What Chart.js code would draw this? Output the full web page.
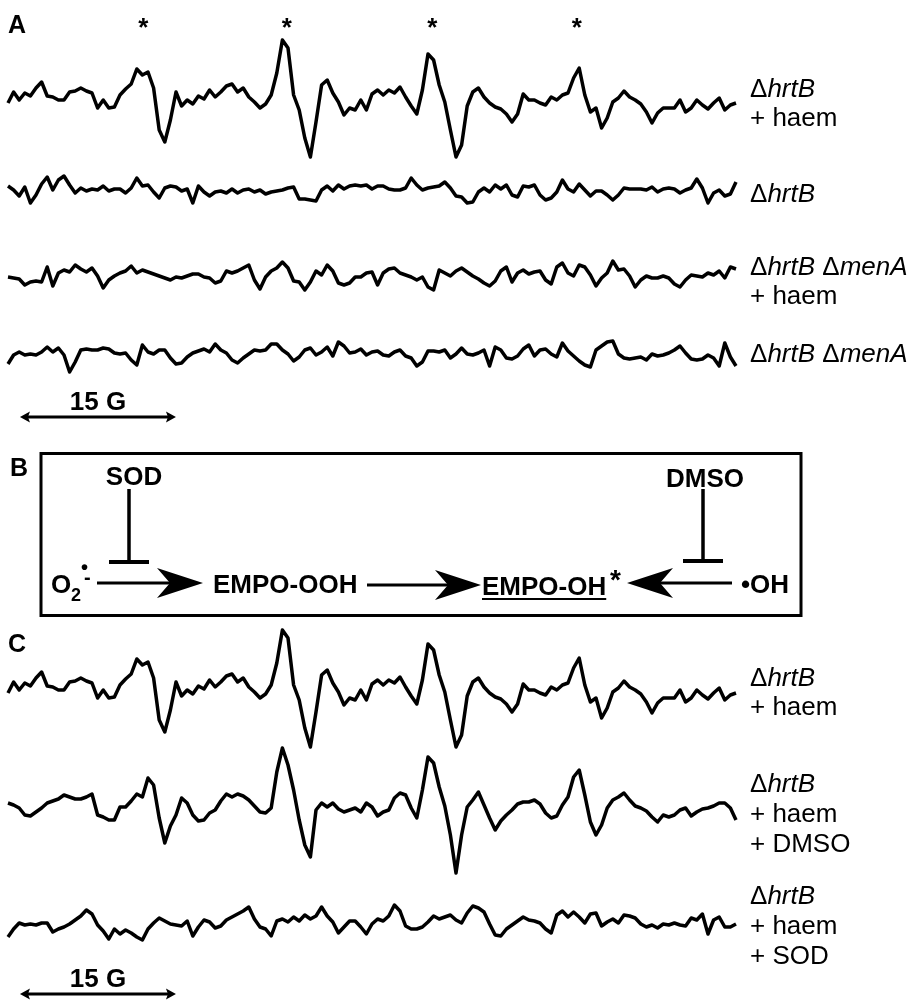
<!DOCTYPE html>
<html>
<head>
<meta charset="utf-8">
<script src="https://cdn.jsdelivr.net/npm/chart.js@4.4.1/dist/chart.umd.min.js"></script>
<style>
  body { margin: 0; background: #fff; }
  #wrap { position: relative; width: 913px; height: 1000px; }
  #wrap canvas { position: absolute; left: 0; top: 0; }
  .t { position: absolute; white-space: nowrap; color: #000;
       font-family: "Liberation Sans", Arial, sans-serif; }
  .b { font-weight: bold; }
  .c { transform: translateX(-50%); }
</style>
</head>
<body>
<div id="wrap"><canvas id="myChart" width="913" height="1000"></canvas></div>
<script>
// EPR spectra, signal in arbitrary units (positive = up), sampled evenly over the sweep
const sweepWidth = 70; // G

const hrtBHaem = [-3,8,0,7,4,12,18,4,3,0,0,8,9,12,9,7,-8,0,-8,-7,5,11,16,31,25,28,12,-30,-42,-20,
  8,-6,0,-4,4,1,10,3,8,14,16,8,12,3,-2,-8,-4,5,27,60,52,5,-10,-38,-57,-22,15,20,7,-2,
  -15,-8,-10,0,-10,6,10,5,10,7,13,3,-6,-14,10,46,40,15,-2,-30,-57,-45,-6,8,12,3,-3,-7,-9,-14,
  -22,-14,6,0,0,-3,-5,3,0,5,7,22,32,5,-12,-8,-28,-18,-2,2,9,3,0,-4,-12,-23,-13,-8,-8,-8,
  0,-12,-8,0,-5,-9,-3,2,-10,-5,-3];

const hrtB = [4,0,-6,3,-13,-5,6,13,0,10,14,5,-3,2,-1,1,0,4,-1,1,1,-3,2,12,4,5,-2,-8,2,4,
  3,-1,1,-13,4,-2,-6,-2,-1,-3,1,-3,0,1,-2,0,-4,-2,-1,0,2,3,-9,-9,-10,-11,0,4,-1,5,
  1,4,5,4,5,1,4,4,1,0,0,2,12,5,0,2,3,4,8,2,-6,-7,-13,-12,-2,2,-2,5,1,5,
  -5,-7,4,3,5,-5,-10,-8,-2,10,1,-2,6,0,-6,-1,-1,-5,-10,-5,2,1,1,1,0,3,-2,1,2,1,
  -3,0,2,11,2,-13,-3,0,-6,-4,8];

const menAHaem = [0,-1,-2,-8,-5,-4,-5,10,-9,4,7,5,12,8,5,9,1,-11,-3,1,4,6,11,4,7,5,3,1,-1,-3,
  0,-1,1,3,3,0,-1,-6,-4,6,4,6,9,12,-3,-12,0,6,9,15,9,-4,-5,-13,-5,6,2,12,6,-6,
  -8,-6,0,0,4,5,-8,4,8,9,4,2,0,-3,0,-10,-13,7,4,1,6,9,5,1,-2,-6,-9,-4,6,10,
  -5,4,7,3,5,6,-3,-7,10,14,4,1,12,10,2,-9,-1,4,16,7,8,1,-10,-3,1,-1,-1,1,-1,-7,
  -10,-3,2,1,0,4,2,6,-1,10,8];

const menA = [-9,0,3,0,1,0,3,8,3,7,0,-17,-7,5,6,5,5,7,6,2,1,2,-5,-10,10,3,1,5,5,-3,
  -9,-8,-2,2,4,6,3,11,5,2,-5,-8,-3,1,5,4,5,11,11,5,1,-6,-2,5,7,0,3,8,-1,13,
  9,2,3,6,0,3,4,0,-1,3,5,-1,-3,-11,-7,4,4,3,5,-3,1,7,1,0,2,5,-11,8,5,-3,
  -4,-1,6,10,-1,5,6,1,-2,12,4,-1,-6,-10,-12,5,9,13,14,1,-3,-4,-3,-2,-5,1,-1,0,2,5,
  9,2,-4,-5,-4,0,-3,-11,12,-2,-11];

const hrtBHaemDMSO = [4,2,-1,-8,-9,-5,-1,4,6,8,12,10,8,8,10,13,-8,-10,-13,-13,0,0,6,13,10,29,22,-11,-36,-19,
  -8,9,4,-8,-14,-13,-6,-3,6,13,10,13,11,7,1,-5,-6,-1,35,59,42,17,-13,-38,-50,-3,4,0,4,-2,
  -5,-3,-1,-5,4,0,-9,-5,-3,9,14,12,-1,-11,17,50,44,20,1,-28,-66,-28,0,7,15,2,-11,-23,-14,-8,
  -3,3,5,5,7,3,-6,-11,-9,2,10,30,37,12,-15,-28,-18,-1,7,10,14,7,1,-1,-4,-10,-15,-8,-10,-8,
  -3,-1,-9,-5,-2,-1,1,4,4,-1,-13];

const hrtBHaemSOD = [-11,-3,3,1,2,1,3,3,-6,-3,-1,2,6,10,16,12,1,-5,-13,-3,-8,-4,-7,-11,-14,-3,3,8,5,2,
  1,0,5,-10,-1,6,4,-2,0,6,9,12,15,19,7,-1,-3,-10,5,7,4,9,5,11,7,10,19,10,4,-7,
  -1,5,5,-1,-8,2,7,5,10,21,15,0,-3,-3,-1,4,10,7,9,11,6,3,13,20,18,14,2,-9,-10,-3,
  1,5,9,6,5,3,-3,-7,11,15,9,14,9,3,12,13,0,4,7,3,11,10,8,2,-1,1,-2,2,1,3,
  1,0,8,6,12,-8,6,9,-1,-1,2];

// field positions (G) of the four EMPO-OH lines marked with *
const starFields = [13.0, 26.8, 40.8, 54.7];
// scale bar
const barStart = 1.15, barLength = 15; // G

// page layout: vertical offset of each trace
const traces = [
  { data: hrtBHaem, base: 100 },
  { data: hrtB, base: 190 },
  { data: menAHaem, base: 277 },
  { data: menA, base: 355 },
  { data: hrtBHaem, base: 690 },
  { data: hrtBHaemDMSO, base: 807 },
  { data: hrtBHaemSOD, base: 926 }
];

const datasets = traces.map(t => ({
  data: t.data.map((v, i) => ({ x: i * sweepWidth / (t.data.length - 1), y: t.base - v })),
  borderColor: '#000',
  borderWidth: 3.5,
  pointRadius: 0,
  tension: 0,
  borderJoinStyle: 'round'
}));

function arrowHead(ctx, tipX, y, dir, len, half, notch) {
  ctx.beginPath();
  ctx.moveTo(tipX, y);
  ctx.lineTo(tipX - dir * len, y - half);
  ctx.lineTo(tipX - dir * (len - notch), y);
  ctx.lineTo(tipX - dir * len, y + half);
  ctx.closePath();
  ctx.fill();
}

function line(ctx, x0, y0, x1, y1, w) {
  ctx.lineWidth = w;
  ctx.beginPath();
  ctx.moveTo(x0, y0);
  ctx.lineTo(x1, y1);
  ctx.stroke();
}

const extras = {
  id: 'extras',
  afterDatasetsDraw(chart) {
    const ctx = chart.ctx;
    const x = chart.scales.x;
    ctx.save();
    ctx.strokeStyle = '#000';
    ctx.fillStyle = '#000';

    // scale bars
    [417, 994].forEach(y => {
      const a = x.getPixelForValue(barStart), b = x.getPixelForValue(barStart + barLength);
      line(ctx, a + 4, y, b - 4, y, 3);
      arrowHead(ctx, a, y, -1, 10, 5.5, 2);
      arrowHead(ctx, b, y, 1, 10, 5.5, 2);
    });

    // panel B scheme
    ctx.lineWidth = 3;
    ctx.strokeRect(41, 453.5, 760, 162);
    line(ctx, 129, 489, 129, 561, 3.5);
    line(ctx, 109, 562, 149, 562, 4);
    line(ctx, 703, 489, 703, 560, 3.5);
    line(ctx, 683, 561, 723, 561, 4);

    line(ctx, 97, 583, 170, 583, 3);
    arrowHead(ctx, 203, 583, 1, 46, 15, 13);
    line(ctx, 367, 585, 450, 585, 3);
    arrowHead(ctx, 481, 585, 1, 46, 15, 13);
    line(ctx, 660, 583, 732, 583, 3);
    arrowHead(ctx, 627, 583, -1, 46, 15, 13);
    ctx.restore();
  }
};

const ctx = document.getElementById('myChart');
const chart = new Chart(ctx, {
  type: 'line',
  data: { datasets: datasets },
  options: {
    responsive: false,
    animation: false,
    devicePixelRatio: 1,
    layout: { padding: 0 },
    plugins: { legend: { display: false }, tooltip: { enabled: false } },
    scales: {
      x: { type: 'linear', display: false, min: -8 / 10.4, max: 905 / 10.4 },
      y: { type: 'linear', display: false, reverse: true, min: 0, max: 1000 }
    }
  },
  plugins: [extras]
});

// text
const wrap = document.getElementById('wrap');
function text(html, x, baseline, size, cls) {
  const d = document.createElement('div');
  d.className = 't ' + (cls || '');
  d.style.fontSize = size + 'px';
  d.style.lineHeight = size + 'px';
  d.style.left = x + 'px';
  d.style.top = (baseline - 0.8465 * size) + 'px';
  d.innerHTML = html;
  wrap.appendChild(d);
  return d;
}

const dh = '\u0394<i>hrtB</i>';
const dm = '\u0394<i>menA</i>';

text('A', 8, 33, 25, 'b');
text('B', 10, 476, 25, 'b');
text('C', 8, 652, 25, 'b');

starFields.forEach(f => text('*', chart.scales.x.getPixelForValue(f), 36, 26, 'b c'));

const barMid = chart.scales.x.getPixelForValue(barStart + barLength / 2);
text('15 G', barMid, 410, 26, 'b c');
text('15 G', barMid, 987, 26, 'b c');

const lx = 750;
text(dh, lx, 97, 26); text('+ haem', lx, 126, 26);
text(dh, lx, 202, 26);
text(dh + ' ' + dm, lx, 275, 26); text('+ haem', lx, 304, 26);
text(dh + ' ' + dm, lx, 362, 26);
text(dh, lx, 686, 26); text('+ haem', lx, 715, 26);
text(dh, lx, 792, 26); text('+ haem', lx, 822, 26); text('+ DMSO', lx, 852, 26);
text(dh, lx, 904, 26); text('+ haem', lx, 934, 26); text('+ SOD', lx, 964, 26);

text('SOD', 134, 485, 26, 'b c');
text('DMSO', 705, 487, 26, 'b c');
text('O', 51, 593, 26, 'b');
text('2', 71, 601, 18, 'b');
text('\u2022', 81, 574, 20, 'b');
text('-', 84, 584, 20, 'b');
text('EMPO-OOH', 213, 593, 26, 'b');
const u = text('EMPO-OH', 482, 595, 26, 'b');
u.style.textDecoration = 'underline';
u.style.textDecorationThickness = '2px';
u.style.textUnderlineOffset = '3px';
text('*', 610, 590, 28, 'b');
text('\u2022OH', 741, 593, 26, 'b');
</script>
</body>
</html>
